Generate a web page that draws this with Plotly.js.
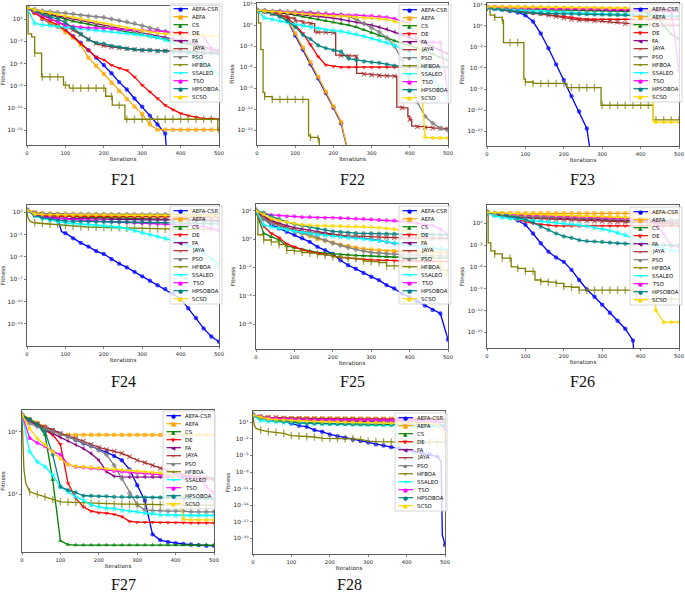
<!DOCTYPE html>
<html><head><meta charset="utf-8">
<script src="https://cdn.plot.ly/plotly-3.0.1.min.js"></script>
<style>html,body{margin:0;padding:0;background:#fff}#chart{width:685px;height:594px}</style>
</head><body><div id="chart"></div>
<script>
// ---------- shared ----------
const ITER = [0,20,40,60,80,100,120,140,160,180,200,220,240,260,280,300,320,340,360,380,400,420,440,460,480,500];
const NAMES = ['AEFA-CSR','AEFA','CS','DE','FA','JAYA','PSO','HFBOA','SSALEO','TSO','HPSOBOA','SCSO'];

// ---------- F21 ----------
const F21_AEFA_CSR = [32,6.3,1,0.25,0.1,3.2e-2,5e-3,6.3e-4,6.3e-5,6.3e-6,6.3e-7,5e-8,3.2e-9,3.2e-10,2e-11,1.6e-12,1e-13,6.3e-15,4e-16,1e-30];
const F21_AEFA = [32,6.3,1.26,0.32,0.1,1.6e-2,3.2e-3,3.2e-4,6.3e-6,5e-7,4e-8,2.5e-9,2e-10,1.6e-11,1.6e-12,1.6e-13,6.3e-15,1.26e-15,1.26e-15,1.26e-15,1.26e-15,1.26e-15,1.26e-15,1.26e-15,1.26e-15,1.26e-15];
const F21_CS = [25,12.6,6.3,3.2,1.6,0.79,0.5,0.32,0.2,0.126,7.9e-2,5e-2,3.2e-2,2e-2,1.26e-2,7.9e-3,5e-3,3.2e-3,2e-3,1.26e-3,7.9e-4,5e-4,2.5e-4,1.6e-4,1e-4,6.3e-5];
const F21_DE = [32,6.3,1.6,0.5,0.16,3.2e-2,4e-3,5e-4,6.3e-5,7.9e-6,3.2e-6,6.3e-7,2.5e-7,1.26e-7,1.6e-8,1.26e-9,1.6e-10,2e-11,2.5e-12,6.3e-13,2e-13,1e-13,6.3e-14,4e-14,4e-14,3.2e-14];
const F21_FA = [32,16,7.9,4,2.5,1.6,1,0.63,0.4,0.25,0.16,0.1,6.3e-2,4e-2,2.5e-2,1.6e-2,1e-2,6.3e-3,4e-3,2.5e-3,1.6e-3,7.9e-4,4e-4,1.6e-4,7.9e-5,4e-5];
const F21_JAYA = [32,10,3.2,1.26,0.4,0.126,3.2e-2,7.9e-3,2e-3,5e-4,2.5e-4,1.6e-4,1.26e-4,1e-4,7.9e-5,6.3e-5,6.3e-5,5e-5,5e-5,5e-5,4e-5,4e-5,4e-5,3.2e-5,3.2e-5,3.2e-5];
const F21_PSO = [32,20,12.6,10,7.9,6.3,5,3.2,2.5,2,1.6,1,0.63,0.4,0.25,0.126,6.3e-2,4e-2,2e-2,1.26e-2,5e-3,1e-3,1.6e-4,1e-4,7.9e-5,5e-5];
const F21_HFBOA_X = [0,3,12,20,38,40,60,80,95,100,110,120,140,160,180,200,205,220,222,240,255,260,280,300,320,340,360,380,400,420,440,460,480,497,500];
const F21_HFBOA = [32,1e-2,4e-3,2.5e-5,1.6e-8,1.6e-8,1.6e-8,1.6e-8,1.26e-9,1.26e-9,5e-10,5e-10,5e-10,5e-10,5e-10,5e-10,4e-11,4e-11,2.5e-12,2.5e-12,3.2e-14,3.2e-14,3.2e-14,3.2e-14,3.2e-14,3.2e-14,3.2e-14,3.2e-14,3.2e-14,3.2e-14,3.2e-14,3.2e-14,3.2e-14,1e-15,1e-15];
const F21_SSALEO = [32,0.25,0.16,0.126,0.1,7.9e-2,6.3e-2,5e-2,4e-2,3.2e-2,2.5e-2,2e-2,1.6e-2,1.26e-2,1e-2,7.9e-3,5e-3,3.2e-3,1.6e-3,6.3e-4,1.6e-4,3.2e-5,6.3e-6,1e-6,1.6e-7,4e-8];
const F21_TSO = [32,10,3.2,1,0.4,0.16,0.1,7.9e-2,6.3e-2,6.3e-2,5e-2,5e-2,4e-2,4e-2,3.2e-2,3.2e-2,2.5e-2,2.5e-2,2e-2,1.6e-2,1.26e-2,1e-2,7.9e-3,5e-3,1e-4,3.2e-5];
const F21_HPSOBOA = [32,12.6,5,2,1,0.32,6.3e-2,1e-2,1.6e-3,6.3e-4,5e-4,2.5e-4,1.6e-4,1e-4,7.9e-5,6.3e-5,6.3e-5,5e-5,5e-5,4e-5,4e-5,3.2e-5,3.2e-5,2.5e-5,2.5e-5,2e-5];
const F21_SCSO = [32,16,10,6.3,4,2.5,1.6,1,0.63,0.4,0.25,0.16,0.1,6.3e-2,4e-2,2.5e-2,1.6e-2,1.26e-2,1e-2,1e-2,7.9e-3,7.9e-3,6.3e-3,6.3e-3,5e-3,5e-3];

// ---------- F22 ----------
const F22_AEFA_CSR = [126,100,63,32,5,3.2e-2,3.2e-4,2.5e-6,2.5e-8,2e-10,1.6e-12,1e-14,3.2e-19];
const F22_AEFA = [126,100,63,32,6.3,6.3e-2,6.3e-4,5e-6,4e-8,3.2e-10,2.5e-12,1.6e-14,3.2e-19];
const F22_CS = [126,100,79,63,40,25,16,10,6.3,4,2.5,1.6,1,0.5,0.2,7.9e-2,3.2e-2,1.26e-2,5e-3,2.5e-3,1.26e-3,5e-4,2e-4,7.9e-5,2.5e-5,1e-5];
const F22_DE = [126,100,63,32,10,1,6.3e-2,1.6e-3,3.2e-5,2e-6,1.26e-6,1e-6,1e-6,1e-6,1e-6,1e-6,1e-6,1e-6,1e-6,1e-6,1e-6,1e-6,1e-6,1e-6,1e-6,1e-6];
const F22_FA = [126,100,79,63,50,40,32,25,20,16,10,6.3,4,2.5,1.6,1,0.5,0.25,0.1,4e-2,1.6e-2,6.3e-3,2.5e-3,7.9e-4,2.5e-4,7.9e-5];
const F22_JAYA_X = [0,20,40,60,80,100,120,140,151,160,180,200,206,220,240,260,261,280,300,320,340,360,366,380,395,400,405,420,440,460,480,500];
const F22_JAYA = [126,79,40,20,10,4,2,1.6,0.1,0.1,8.9e-2,7.9e-2,5e-5,4.5e-5,4e-5,3.2e-5,1.26e-7,1e-7,7.9e-8,6.3e-8,5.6e-8,5e-8,2e-12,1.6e-12,1e-13,3.2e-14,4e-15,3.2e-15,2.5e-15,2e-15,1.8e-15,1.6e-15];
const F22_PSO = [126,126,100,100,79,79,63,63,50,40,32,25,16,6.3,1.6,0.4,0.1,1.6e-2,1e-3,1e-5,1e-8,1e-11,1e-13,1e-14,2e-15,1e-15];
const F22_HFBOA_X = [0,4,10,16,20,40,60,80,100,120,135,140,160,163];
const F22_HFBOA = [126,2,3.2e-4,2.5e-10,6.3e-11,2.5e-11,2.5e-11,2.5e-11,2.5e-11,2.5e-11,1.6e-16,1e-16,6.3e-17,1e-30];
const F22_SSALEO = [126,10,6.3,4,2.5,1.26,0.79,0.5,0.32,0.2,0.16,0.126,7.9e-2,5e-2,2.5e-2,1.26e-2,6.3e-3,3.2e-3,1.26e-3,4e-4,1e-4,1e-5,1e-6,3.2e-8,1e-9,2.5e-11];
const F22_TSO = [126,100,79,79,63,63,50,50,40,40,32,32,25,25,20,20,16,12.6,7.9,3.2,2,5e-3,4e-3,4e-3,3.2e-3,1.6e-10];
const F22_HPSOBOA = [126,79,40,16,4,0.5,4e-2,1e-2,1.26e-3,5e-4,2.5e-4,1.6e-4,1.6e-5,1e-5,6.3e-6,5e-6,4e-6,2.5e-6,1.6e-6,1.26e-6,1.26e-6,1e-6,1e-6,1e-6,1e-6,1e-6];
const F22_SCSO = [126,100,79,63,63,50,40,32,32,25,20,20,16,12.6,10,10,7.9,6.3,3.2,1.6,1,0.5,1e-16,7.9e-17,7.9e-17,7.9e-17];

// ---------- F23 ----------
const F23_AEFA_CSR = [316,251,200,126,79,32,4,7.9e-2,6.3e-4,3.2e-6,2e-8,1e-10,6.3e-13,2.5e-15,1e-22];
const F23_AEFA = [500,500,480,460,440,420,400,380,360,350,330,320,300,290,280,260,250,250,240,230,220,220,210,210,200,200];
const F23_CS = [400,355,316,282,251,224,200,190,182,174,166,158,151,145,138,132,126,120,115,110,100,63,32,1,6.3e-2,1.26e-2];
const F23_DE = [400,251,200,126,100,79,63,50,40,32,25,16,10,7.9,7.9,7.9,7.9,7.9,7.9,7.9,7.9,7.9,7.9,7.9,7.9,7.9];
const F23_FA = [400,380,360,340,320,300,290,280,270,260,250,240,230,220,210,200,190,180,170,160,150,140,130,120,110,100];
const F23_JAYA = [400,316,251,200,158,126,79,50,32,20,12.6,7.9,6.3,6.3,5,5,4,3.2,2,1.6,1.26,1.26,1.26,1.26,1.26,1.26];
const F23_PSO = [320,310,300,300,290,290,280,280,270,270,260,260,250,250,250,240,240,240,230,230,230,220,220,220,210,210];
const F23_HFBOA_X = [0,8,20,40,43,60,80,96,100,120,140,160,180,200,208,220,240,260,280,297,300,320,340,360,380,400,420,433,440,460,480,500];
const F23_HFBOA = [400,32,16,6.3,4e-3,4e-3,4e-3,2.5e-8,1e-8,6.3e-9,6.3e-9,6.3e-9,6.3e-9,6.3e-9,1.6e-9,1.6e-9,1.6e-9,1.6e-9,1.6e-9,5e-12,5e-12,5e-12,5e-12,5e-12,5e-12,5e-12,5e-12,4e-14,4e-14,4e-14,4e-14,4e-14];
const F23_SSALEO = [400,250,200,180,160,140,126,112,100,89,79,71,63,56,50,50,45,40,40,35,32,32,28,28,25,25];
const F23_TSO = [500,450,400,400,350,350,320,320,320,280,280,280,250,250,250,250,220,220,220,200,200,200,200,200,160,5e-7];
const F23_HPSOBOA = [400,300,200,150,100,70,63,60,56,53,50,48,46,44,42,40,38,36,34,32,30,28,26,24,22,20];
const F23_SCSO_X = [0,20,40,60,80,100,120,140,160,180,200,220,240,260,280,300,320,340,360,380,400,420,433,440,460,480,500];
const F23_SCSO = [500,490,480,470,460,450,440,430,420,410,400,390,380,370,360,350,340,330,320,300,280,260,2e-14,2e-14,2e-14,2e-14,2e-14];

// ---------- F24 ----------
const F24_AEFA_CSR_X = [0,20,40,60,80,90,100,120,140,160,180,200,220,240,260,280,300,320,340,360,380,400,420,440,460,480,500];
const F24_AEFA_CSR = [200,63,32,20,16,0.25,0.16,3.2e-2,7.9e-3,2.5e-3,6.3e-4,2.5e-4,5e-5,1.26e-5,4e-6,1e-6,2.5e-7,6.3e-8,1.6e-8,5e-9,1.26e-9,2.5e-10,1.26e-11,6.3e-13,2.5e-14,2e-15,4e-16];
const F24_AEFA = [200,100,70,60,55,50,50,48,46,45,44,43,42,42,41,40,40,40,39,39,38,38,38,37,37,36];
const F24_CS = [200,60,40,35,30,28,26,24,22,21,20,19,18,17,16,15,14,13,12,11,10,9.5,9,8,7,6];
const F24_DE = [200,60,40,35,32,30,30,29,29,28,28,27,27,27,26,26,26,25,25,25,25,25,24,24,24,24];
const F24_FA = [200,50,30,22,18,16,15,14,13,13,12,12,11,11,11,10,10,10,10,9.5,9.5,9,9,9,9,9];
const F24_JAYA = [200,80,55,45,40,38,36,35,34,33,32,31,30,30,29,29,28,28,27,27,27,26,26,26,25,25];
const F24_PSO = [200,80,70,65,62,60,60,58,58,56,56,55,55,54,54,53,53,52,52,52,51,51,50,50,50,50];
const F24_HFBOA_X = [0,3,9,20,40,60,80,100,120,140,160,180,200,220,240,260,280,300,320,340,360,380,400,420,440,460,480,500];
const F24_HFBOA = [79,16,5.6,4,3.2,2.6,2.2,1.66,1.32,1.17,1.07,1.0,0.93,0.89,0.83,0.76,0.71,0.66,0.63,0.6,0.56,0.54,0.52,0.5,0.5,0.5,0.5,0.5];
const F24_SSALEO = [200,32,16,8.9,5.6,4,3.2,2.6,2.2,1.9,1.6,1.26,1.0,0.63,0.35,0.18,0.1,5.6e-2,3.2e-2,1.6e-2,7.9e-3,3.2e-3,1.26e-3,4e-4,6.3e-5,7.9e-6];
const F24_TSO = [200,40,25,18,14,12,10,9,8,7,6,5.5,5,4.5,4,3.5,3.2,3,2.8,2.5,2.2,2,1.6,1.2,0.7,0.32];
const F24_HPSOBOA = [200,40,20,12,9,7,6.3,6,5.8,5.6,5.5,5.4,5.3,5.2,5,4.8,4.6,4.4,4.2,4,3.8,3.6,3.4,3.2,3,2.8];
const F24_SCSO = [200,60,50,48,46,45,45,44,44,43,43,42,42,41,41,40,40,40,39,39,39,38,38,38,37,37];

// ---------- F25 ----------
const F25_AEFA_CSR = [100,28,10,5.6,3.2,2,1.12,0.63,0.28,0.16,8.9e-2,3.2e-2,1.4e-2,7.9e-3,4e-3,2.2e-3,1.26e-3,5.6e-4,3.2e-4,1.4e-4,7.9e-5,4e-5,2e-5,1e-5,5.6e-6,7.9e-8];
const F25_AEFA = [100,40,20,10,6.3,4,2.5,1.6,1,0.79,0.56,0.4,0.32,0.25,0.2,0.18,0.16,0.14,0.14,0.126,0.126,0.126,0.126,0.112,0.112,0.112];
const F25_CS = [79,2.5,1.41,0.89,0.32,0.25,0.18,0.14,0.112,0.1,8.9e-2,7.9e-2,7.6e-2,7.1e-2,6.6e-2,6.3e-2,6e-2,5.6e-2,5.4e-2,5.2e-2,5e-2,5e-2,4.8e-2,4.7e-2,4.6e-2,4.5e-2];
const F25_DE = [79,7.9,2.5,1.26,0.45,0.28,0.18,0.126,0.1,7.9e-2,6.3e-2,5e-2,4.5e-2,4e-2,3.5e-2,3.4e-2,3.2e-2,3.2e-2,3e-2,2.9e-2,2.8e-2,2.75e-2,2.7e-2,2.6e-2,2.5e-2,2.5e-2];
const F25_FA = [100,40,20,12.6,8.9,6.3,5,4,3.2,2.5,2,1.6,1.41,1.26,1.12,1,0.79,0.63,0.5,0.45,0.4,0.32,0.28,0.22,0.2,0.16];
const F25_JAYA = [79,32,16,10,6.3,4.5,3.5,2.8,2.5,2.2,2,1.8,1.66,1.58,1.48,1.41,1.35,1.32,1.26,1.26,1.2,1.17,1.15,1.12,1.12,1.12];
const F25_PSO = [79,25,12.6,7.9,5,3.5,2.5,2,1.26,0.79,0.5,0.35,0.25,0.18,0.14,0.112,0.1,8.9e-2,8.3e-2,7.9e-2,7.6e-2,7.2e-2,6.9e-2,6.6e-2,6.5e-2,6.3e-2];
const F25_HFBOA_X = [0,5,20,40,60,80,100,120,140,160,180,200,220,240,260,280,300,320,340,360,380,400,420,440,460,480,500];
const F25_HFBOA = [100,2,0.85,0.63,0.4,0.16,0.14,0.112,0.1,7.9e-2,7.1e-2,5.6e-2,5e-2,4.5e-2,4e-2,2.8e-2,2.5e-2,2.2e-2,1.26e-2,1.26e-2,1.26e-2,1.12e-2,8.9e-3,8.9e-3,7.9e-3,6.3e-3,5e-3];
const F25_SSALEO = [100,10,7.1,5.6,4.5,3.5,3,2.5,2.1,1.86,1.6,1.41,1.26,1.12,1,0.89,0.76,0.63,0.52,0.45,0.38,0.32,0.27,0.23,0.2,0.17];
const F25_TSO = [100,63,50,45,40,40,35,35,32,32,32,30,29,27.5,26.3,25,22.4,20.9,20,17.8,15.8,12.6,10,8.9,5,2];
const F25_HPSOBOA = [100,71,40,25,16,11.2,8.9,7.1,5.6,4.5,3.5,3.2,2.8,2.6,2.5,2.5,2.4,2.35,2.3,2.24,2.2,2.14,2.1,2.04,2,2];
const F25_SCSO = [100,56,28,20,16,12.6,10,9.3,8.9,8.9,8.5,8.3,7.9,7.9,7.6,7.1,6.3,5.6,5,4,3.2,2,0.63,0.1,1.6e-2,2.5e-3];

// ---------- F26 ----------
const F26_AEFA_CSR = [25,25,16,7.9,2.5,0.63,4e-2,1.8e-3,1.26e-4,2e-5,5e-6,4e-7,1.6e-8,7.9e-10,7.9e-11,6.3e-12,5e-13,4e-14,3.2e-15,7.9e-17,1e-30];
const F26_AEFA = [32,26,25,24,24,24,24,24,24,24,24,24,24,24,24,24,24,24,24,24,24,24,24,24,24,24];
const F26_CS = [32,25,20,16,13,11,9,8,7,6,5,4.5,4,3.5,3.2,3,2.8,2.5,2.2,2,1.8,1.6,1.4,1.2,0.8,0.4];
const F26_DE = [32,20,12,6,3,1.7,1,0.7,0.55,0.45,0.45,0.45,0.45,0.45,0.45,0.45,0.45,0.45,0.45,0.45,0.45,0.45,0.45,0.45,0.45,0.45];
const F26_FA = [32,16,10,8,7,6.3,6,5.6,5.3,5,4.7,4.4,4.1,3.8,3.5,3.2,3,2.8,2.6,2.4,2.2,2,1.9,1.8,1.7,1.6];
const F26_JAYA = [32,16,10,8,6.3,5.6,5,4.5,4,3.5,3.2,2.8,2.5,2.2,2,1.8,1.6,1.5,1.4,1.3,1.2,1.1,1.05,1,1,1];
const F26_PSO = [32,20,14,11,10,9,8.5,8,7.5,7,6.5,6,5.6,5.3,5,4.7,4.4,4.1,3.8,3.5,3.3,3.2,3,2.9,2.8,2.8];
const F26_HFBOA_X = [0,3,10,20,40,60,63,80,100,120,125,140,160,180,200,220,240,260,280,300,320,340,360,380,389,400,420,440,460,480,500];
const F26_HFBOA = [32,2e-3,1.6e-4,6.3e-5,1.6e-5,1.6e-5,1e-6,6.3e-7,2.5e-7,2.5e-7,1.6e-8,1e-8,7.9e-9,5.6e-9,2e-9,1.6e-9,6.3e-10,6.3e-10,6.3e-10,6.3e-10,6.3e-10,6.3e-10,6.3e-10,6.3e-10,4e-11,4e-11,4e-11,4e-11,4e-11,4e-11,4e-11];
const F26_SSALEO = [32,10,6.3,5,4,3.2,2.5,2,1.6,1.26,1,0.79,0.63,0.4,0.25,0.16,0.1,5e-2,2.5e-2,1e-2,3.2e-3,1.26e-3,6.3e-4,3.2e-4,2e-4,1.26e-4];
const F26_TSO = [32,25,20,18,16,14,13,12,11,10,9,8.5,8,7.5,7,6.5,6,5.5,5,4.5,4,3.5,1.6,3.2e-2,7.9e-4,6.3e-4];
const F26_HPSOBOA = [32,25,16,10,6.3,3.2,1.26,0.35,0.126,4e-2,1.6e-2,1e-2,5e-3,3.5e-3,3.2e-3,2.8e-3,2.2e-3,1.8e-3,1.6e-3,1.4e-3,1.26e-3,1.26e-3,1.12e-3,1e-3,1e-3,1e-3];
const F26_SCSO = [32,28,25,22,20,18,17,16,15,14,13,12,11,10,9.5,9,8.5,8,7,6.3,5.6,5,1e-12,2.5e-14,2.5e-14,2.5e-14];

// ---------- F27 ----------
const F27_AEFA_CSR = [186,158,135,120,107,93,85,74,65,59,52,47,41,35,25,14,7.9,2.3,1.86,1.74,1.66,1.62,1.58,1.55,1.51,1.51];
const F27_AEFA = [186,158,138,120,105,91,89,89,89,89,89,89,89,89,89,89,89,89,89,89,89,89,89,89,89,89];
const F27_CS = [186,158,132,89,17,1.82,1.58,1.55,1.55,1.55,1.55,1.55,1.55,1.55,1.55,1.55,1.55,1.55,1.55,1.55,1.55,1.55,1.55,1.55,1.55,1.55];
const F27_DE = [178,145,126,107,89,63,15,8.7,6.3,5.4,5.1,5.0,4.8,4.4,3.7,3.6,3.6,3.6,3.55,3.55,3.55,3.55,3.5,3.5,3.5,3.5];
const F27_FA = [178,148,126,110,93,81,71,62,54,45,35,23,19.5,19,19,19,19,19,19,19,19,18.6,18.6,18.6,18.6,18.2];
const F27_JAYA = [178,151,132,117,105,93,85,78,71,63,56,52,49,45,40,35,32,29,26,24,22,20.4,19.5,18.6,17.8,17];
const F27_PSO = [178,135,120,110,100,91,83,74,66,59,51,43,29,17.8,10.5,6.8,5.6,5.5,5.5,5.4,5.4,5.4,5.25,5.25,5.25,5.25];
const F27_HFBOA_X = [0,2,5,10,20,40,60,80,100,120,140,160,180,200,220,240,260,280,300,320,340,360,380,400,420,440,460,480,500];
const F27_HFBOA = [186,50,25,15,11,10,9.1,8.3,7.6,7.5,7.4,7.3,7.2,7.1,7.1,7.0,7.0,7.0,6.9,6.9,6.9,6.8,6.8,6.8,6.8,6.7,6.7,6.7,6.7];
const F27_SSALEO = [186,48,33,27.5,20.4,13.2,11,9.1,8.1,6.8,6.3,6.0,5.9,5.6,5.4,5.25,5.0,4.9,4.7,4.7,4.6,4.6,4.6,4.6,4.6,4.6];
const F27_TSO = [186,79,66,58,48,43,30,27.5,27,26,25.7,24.5,23.4,23,22.4,21.9,21.4,20.9,20.4,20,20,19.5,19,17.8,13.2,10.5];
const F27_HPSOBOA = [178,155,129,100,43,13.2,11.7,10.7,9.5,9.5,9.3,9.3,9.1,9.1,9.1,9.1,8.9,8.9,8.9,8.9,8.7,8.7,8.7,8.5,8.5,8.5];
const F27_SCSO = [186,112,78,62,48,37,30,28,27.5,27,26.3,25.7,25.1,24.5,24,23.4,22.9,22.4,21.9,21.4,19,4.0,3.9,3.9,3.9,3.9];

// ---------- F28 ----------
const F28_AEFA_CSR_X = [0,20,40,60,80,100,120,140,160,180,200,220,240,260,280,300,320,340,360,380,400,420,440,460,480,490,493,500];
const F28_AEFA_CSR = [200,100,50,25,16,6.3,2.5,1.6,0.4,0.2,6.3e-2,3.2e-2,1.6e-2,7.9e-3,4e-3,2.5e-3,1e-3,6.3e-4,3.2e-4,2e-4,1e-4,5e-5,2.5e-5,1.6e-5,6.3e-6,7.9e-7,4e-20,6.3e-22];
const F28_AEFA = [200,100,80,70,63,60,58,56,55,54,53,52,51,50,50,49,48,47,46,45,44,43,42,41,40,40];
const F28_CS = [200,80,40,25,16,12.6,10,8,7,6.3,5.6,5,4.5,4,3.8,3.6,3.4,3.2,3,2.9,2.8,2.7,2.6,2.5,2.5,2.5];
const F28_DE = [200,80,60,50,45,42,40,40,38,37,36,35,34,33,32,31,30,29,28,28,27,27,26,26,25,25];
const F28_FA = [200,80,50,40,32,28,25,22,20,18,17,16,15,14,13,12.6,12,11.5,11,10.5,10,10,10,10,10,10];
const F28_JAYA = [200,100,80,70,60,55,50,48,46,44,42,40,38,37,36,35,34,33,32,32,31,31,30,30,30,30];
const F28_PSO = [200,100,60,45,40,35,32,30,28,27,26,25,24,24,23,23,22,22,21,21,20,20,20,20,20,20];
const F28_HFBOA_X = [0,3,8,20,40,60,80,100,120,140,160,180,200,220,240,260,280,300,320,340,360,380,400,420,440,460,480,500];
const F28_HFBOA = [200,3.2,0.79,0.4,0.2,0.16,0.1,4e-2,3.5e-2,2.5e-2,2.2e-2,1.26e-2,1.26e-2,1.12e-2,1e-2,1e-2,7.9e-3,4e-3,3.2e-3,2.8e-3,2.5e-3,2.5e-3,2.5e-3,2.5e-3,2.5e-3,2.5e-3,2.5e-3,2.5e-3];
const F28_SSALEO = [200,20,15,12,10,8,7,6.3,6,5.6,5.3,5,4.8,4.5,4.3,4,3.8,3.6,3.4,3.2,3,2.8,2.5,2.2,2,1.6];
const F28_TSO = [200,100,60,50,40,35,32,30,30,28,28,27,27,26,26,25,25,25,24,24,24,23,23,22,16,0.5];
const F28_HPSOBOA = [200,60,30,20,14,10,8,7,6.3,6,5.6,5.3,5,4.8,4.6,4.4,4.2,4,3.8,3.6,3.5,3.4,3.3,3.2,3.2,3.2];
const F28_SCSO = [200,80,40,30,25,20,18,16,14,13,12,11,10,9.5,9,8.5,8,7.5,7,6.8,6.5,6.3,6.3,6.3,4,2.5e-2];

// ---------- panels (built from the arrays above) ----------
const PANELS = [
  {id:'F21', ys:[F21_AEFA_CSR,F21_AEFA,F21_CS,F21_DE,F21_FA,F21_JAYA,F21_PSO,F21_HFBOA,F21_SSALEO,F21_TSO,F21_HPSOBOA,F21_SCSO], xs:{7:F21_HFBOA_X}, hv:[7]},
  {id:'F22', ys:[F22_AEFA_CSR,F22_AEFA,F22_CS,F22_DE,F22_FA,F22_JAYA,F22_PSO,F22_HFBOA,F22_SSALEO,F22_TSO,F22_HPSOBOA,F22_SCSO], xs:{5:F22_JAYA_X,7:F22_HFBOA_X}, hv:[5,7]},
  {id:'F23', ys:[F23_AEFA_CSR,F23_AEFA,F23_CS,F23_DE,F23_FA,F23_JAYA,F23_PSO,F23_HFBOA,F23_SSALEO,F23_TSO,F23_HPSOBOA,F23_SCSO], xs:{7:F23_HFBOA_X,11:F23_SCSO_X}, hv:[7,11]},
  {id:'F24', ys:[F24_AEFA_CSR,F24_AEFA,F24_CS,F24_DE,F24_FA,F24_JAYA,F24_PSO,F24_HFBOA,F24_SSALEO,F24_TSO,F24_HPSOBOA,F24_SCSO], xs:{0:F24_AEFA_CSR_X,7:F24_HFBOA_X}, hv:[]},
  {id:'F25', ys:[F25_AEFA_CSR,F25_AEFA,F25_CS,F25_DE,F25_FA,F25_JAYA,F25_PSO,F25_HFBOA,F25_SSALEO,F25_TSO,F25_HPSOBOA,F25_SCSO], xs:{7:F25_HFBOA_X}, hv:[7]},
  {id:'F26', ys:[F26_AEFA_CSR,F26_AEFA,F26_CS,F26_DE,F26_FA,F26_JAYA,F26_PSO,F26_HFBOA,F26_SSALEO,F26_TSO,F26_HPSOBOA,F26_SCSO], xs:{7:F26_HFBOA_X}, hv:[7]},
  {id:'F27', ys:[F27_AEFA_CSR,F27_AEFA,F27_CS,F27_DE,F27_FA,F27_JAYA,F27_PSO,F27_HFBOA,F27_SSALEO,F27_TSO,F27_HPSOBOA,F27_SCSO], xs:{7:F27_HFBOA_X}, hv:[]},
  {id:'F28', ys:[F28_AEFA_CSR,F28_AEFA,F28_CS,F28_DE,F28_FA,F28_JAYA,F28_PSO,F28_HFBOA,F28_SSALEO,F28_TSO,F28_HPSOBOA,F28_SCSO], xs:{0:F28_AEFA_CSR_X,7:F28_HFBOA_X}, hv:[]}
];

// ---------- styles / positions ----------
const W = 685, H = 594;
const COLORS = ['#0000ff','#ffa500','#008000','#ff0000','#800080','#a52a2a','#808080','#808000','#00ffff','#ff00ff','#008080','#ffd700'];
const SYMBOLS = ['circle','square','triangle-up','triangle-down','triangle-left','x-thin-open','diamond','line-ns-open','star','pentagon','hexagon','hexagon2'];
const MSIZE = [4.4,4.2,4.6,4.6,4.4,4.4,4.4,5.4,5.4,4.6,4.6,4.6];
const MLINE = [0,0,0,0,0,1.1,0,1.3,0,0,0,0];
const GLYPHS = ['\u25CF','\u25A0','\u25B2','\u25BC','\u25C0','\u00D7','\u25C6','+','\u2605','\u25CF','\u25CF','\u25CF'];
const BOX = {F21:[27,219,6,145],F22:[257,448,3,145],F23:[487,679,3,146],F24:[27,219,205,346],F25:[256,448,204,349],F26:[487,679,205,348],F27:[22,214,410,552],F28:[253,445,411,554]};
const YRANGE = {F21:[-16.96,1.75],F22:[-17.1,3.14],F23:[-17.1,3.24],F24:[-15.97,2.99],F25:[-7.76,2.47],F26:[-17.15,2.52],F27:[0.08,2.346],F28:[-22.85,3.05]};
const YTICKS = {F21:[0,-3,-6,-9,-12,-15],F22:[3,0,-3,-6,-9,-12,-15],F23:[3,0,-3,-6,-9,-12,-15],F24:[2,-1,-4,-7,-10,-13],F25:[2,0,-2,-4,-6],F26:[0,-3,-6,-9,-12,-15],F27:[1,2],F28:[1,-2,-5,-8,-11,-14,-17,-20]};
const LEG = {F21:[170,4],F22:[399,5],F23:[630,4],F24:[170,206],F25:[399,206],F26:[630,207],F27:[163,411],F28:[395,413]};
const LABEL = {F21:[123,180],F22:[352,180],F23:[582,180],F24:[123,381],F25:[352,381],F26:[582,381],F27:[123,null],F28:[349,null]};

const px = x => x / W, py = y => 1 - y / H;
const SUPD = {'0':'\u2070','1':'\u00B9','2':'\u00B2','3':'\u00B3','4':'\u2074','5':'\u2075','6':'\u2076','7':'\u2077','8':'\u2078','9':'\u2079','-':'\u207B'};
const sup = e => '10' + String(e).split('').map(c => SUPD[c]).join('');

const traces = [], shapes = [], annotations = [];
const layout = {
  width: W, height: H, margin:{l:0,r:0,t:0,b:0}, showlegend:false,
  paper_bgcolor:'#fff', plot_bgcolor:'#fff',
  font:{family:'DejaVu Sans, sans-serif', color:'#222', size:6},
  shapes, annotations
};

PANELS.forEach((p, i) => {
  const ax = i === 0 ? '' : String(i + 1);
  const b = BOX[p.id];
  p.ys.forEach((ys, k) => {
    const xs = (p.xs[k]) ? p.xs[k] : ITER.slice(0, ys.length);
    traces.push({
      type:'scatter', mode:'lines+markers', x: xs, y: ys,
      xaxis:'x' + ax, yaxis:'y' + ax, name: NAMES[k],
      line:{color: COLORS[k], width: 1.3, shape: p.hv.includes(k) ? 'hv' : 'linear'},
      marker:{symbol: SYMBOLS[k], color: COLORS[k], size: xs.map(x => x % 20 === 0 ? MSIZE[k] : 0),
              line:{color: COLORS[k], width: MLINE[k]}},
      showlegend:false, hoverinfo:'skip'
    });
  });
  const axBase = {showline:true, mirror:true, linecolor:'#333', linewidth:0.8, ticks:'outside', ticklen:2.5, tickwidth:0.6,
                  tickcolor:'#333', showgrid:false, zeroline:false};
  layout['xaxis' + ax] = Object.assign({}, axBase, {
    domain:[px(b[0]), px(b[1])], anchor:'y' + ax, range:[0, 500],
    tickmode:'array', tickvals:[0,100,200,300,400,500], ticktext:['0','100','200','300','400','500'],
    tickfont:{size:5.2, color:'#222'},
    title:{text:'Iterations', font:{size:5.6, color:'#222'}, standoff:2}
  });
  layout['yaxis' + ax] = Object.assign({}, axBase, {
    domain:[py(b[3]), py(b[2])], anchor:'x' + ax, type:'log', range: YRANGE[p.id],
    tickmode:'array', tickvals: YTICKS[p.id].map(e => Math.pow(10, e)), ticktext: YTICKS[p.id].map(sup),
    tickfont:{size:5.8, color:'#222'},
    title:{text:'Fitness', font:{size:5.6, color:'#222'}, standoff:2}
  });

  // legend box (drawn like the matplotlib legend inside each axes)
  const L = LEG[p.id];
  shapes.push({type:'rect', xref:'paper', yref:'paper', x0:px(L[0]), x1:px(L[0] + 52), y0:py(L[1]), y1:py(L[1] + 98),
               line:{color:'#cccccc', width:0.8}, fillcolor:'rgba(255,255,255,0.8)', layer:'above'});
  NAMES.forEach((n, k) => {
    const yc = L[1] + 4.7 + 8 * k;
    shapes.push({type:'line', xref:'paper', yref:'paper', x0:px(L[0] + 3.5), x1:px(L[0] + 18), y0:py(yc), y1:py(yc),
                 line:{color: COLORS[k], width:1.2}, layer:'above'});
    annotations.push({xref:'paper', yref:'paper', x:px(L[0] + 10.8), y:py(yc), xanchor:'center', yanchor:'middle',
                      text: GLYPHS[k], showarrow:false, font:{size:5.6, color: COLORS[k]}, borderpad:0});
    annotations.push({xref:'paper', yref:'paper', x:px(L[0] + 21), y:py(yc), xanchor:'left', yanchor:'middle',
                      text: n, showarrow:false, font:{size:5.4, color:'#111'}, borderpad:0});
  });

  // panel caption
  const C = LABEL[p.id];
  const cap = {xref:'paper', yref:'paper', x:px(C[0]), xanchor:'center', text: p.id, showarrow:false, borderpad:0,
               font:{family:'Liberation Serif, Times New Roman, serif', size:16, color:'#111'}};
  if (C[1] === null) { cap.y = 0; cap.yanchor = 'bottom'; } else { cap.y = py(C[1]); cap.yanchor = 'middle'; }
  annotations.push(cap);
});

Plotly.newPlot('chart', traces, layout, {displayModeBar:false, staticPlot:true});
</script></body></html>
